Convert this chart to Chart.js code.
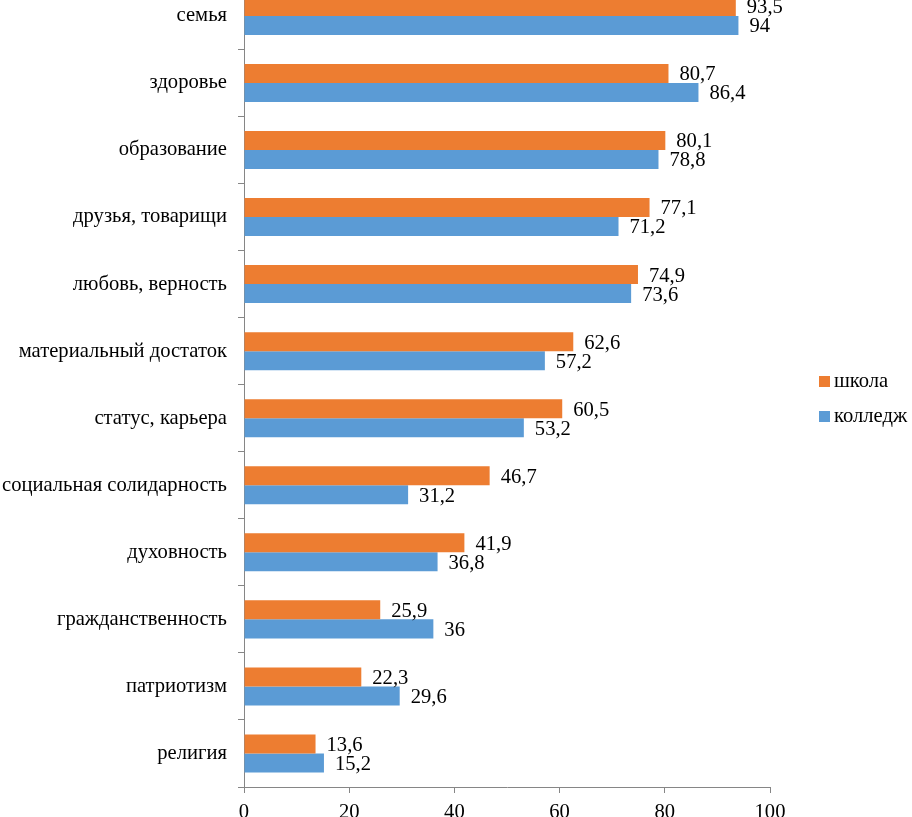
<!DOCTYPE html>
<html><head><meta charset="utf-8">
<script src="https://cdn.jsdelivr.net/npm/chart.js@4/dist/chart.umd.min.js"></script>
<style>
html,body{margin:0;padding:0;background:#fff;}
#wrap{position:relative;width:912px;height:817px;overflow:hidden;}
#c{position:absolute;left:0;top:-41px;}
#probe{font-family:"Liberation Serif";position:absolute;left:-999px;}
</style></head>
<body><div id="wrap"><canvas id="c" width="912" height="873" style="width:912px;height:873px"></canvas></div>
<span id="probe">семья 93,5</span>
<script>
const categories = ['семья','здоровье','образование','друзья, товарищи','любовь, верность','материальный достаток','статус, карьера','социальная солидарность','духовность','гражданственность','патриотизм','религия'];
const schoolValues = [93.5,80.7,80.1,77.1,74.9,62.6,60.5,46.7,41.9,25.9,22.3,13.6];
const collegeValues = [94,86.4,78.8,71.2,73.6,57.2,53.2,31.2,36.8,36,29.6,15.2];
const xTicks = [0,20,40,60,80,100];
const seriesNames = ['школа','колледж'];
const colors = ['#ED7D31','#5B9BD5'];
const FONT = "'Liberation Serif', 'Times New Roman', 'DejaVu Serif', serif";
const FS = 20.6;
const axisColor = '#868686';

const labelPlugin = {
  id:'vals',
  afterDatasetsDraw(chart){
    const ctx = chart.ctx;
    ctx.save();
    ctx.font = FS + 'px ' + FONT;
    ctx.fillStyle = '#000';
    ctx.textAlign = 'left';
    ctx.textBaseline = 'middle';
    chart.data.datasets.forEach((ds,i)=>{
      const meta = chart.getDatasetMeta(i);
      meta.data.forEach((bar,j)=>{
        const v = ds.data[j];
        ctx.fillText(String(v).replace('.',','), bar.x + 11, bar.y + 1.5);
      });
    });
    ctx.restore();
  }
};
const legendPlugin = {
  id:'leg',
  afterDraw(chart){
    const ctx = chart.ctx;
    ctx.save();
    ctx.font = FS + 'px ' + FONT;
    ctx.textAlign = 'left';
    ctx.textBaseline = 'middle';
    const ys = [376+41, 411+41];
    seriesNames.forEach((n,i)=>{
      ctx.fillStyle = colors[i];
      ctx.fillRect(819, ys[i], 11, 11);
      ctx.fillStyle = '#000';
      ctx.fillText(n, 834, ys[i] + 6);
    });
    ctx.restore();
  }
};

function build(){
new Chart(document.getElementById('c'), {
  type:'bar',
  data:{
    labels: categories,
    datasets:[
      {label:seriesNames[0], data:schoolValues, backgroundColor:colors[0], categoryPercentage:0.567, barPercentage:1},
      {label:seriesNames[1], data:collegeValues, backgroundColor:colors[1], categoryPercentage:0.567, barPercentage:1}
    ]
  },
  options:{
    indexAxis:'y',
    responsive:false,
    animation:false,
    devicePixelRatio:1,
    layout:{padding:{top:0,right:142,left:0,bottom:0}},
    plugins:{legend:{display:false}, tooltip:{enabled:false}},
    scales:{
      x:{
        min:0,max:100,
        afterBuildTicks(s){ s.ticks = xTicks.map(v=>({value:v})); },
        afterFit(s){ s.height = 45; },
        grid:{drawOnChartArea:false, tickLength:6, color:axisColor},
        border:{color:axisColor},
        ticks:{font:{family:FONT,size:FS}, color:'#000', padding:7, maxRotation:0}
      },
      y:{
        afterFit(s){ s.width = 244; },
        grid:{drawOnChartArea:false, offset:true, tickLength:6, color:axisColor},
        border:{color:axisColor},
        ticks:{font:{family:FONT,size:FS}, color:'#000', padding:11, autoSkip:false}
      }
    }
  },
  plugins:[labelPlugin, legendPlugin]
});
}
if (document.fonts && document.fonts.load) {
  document.fonts.load(FS + 'px "Liberation Serif"', 'семья').then(build, build);
} else build();
</script></body></html>
